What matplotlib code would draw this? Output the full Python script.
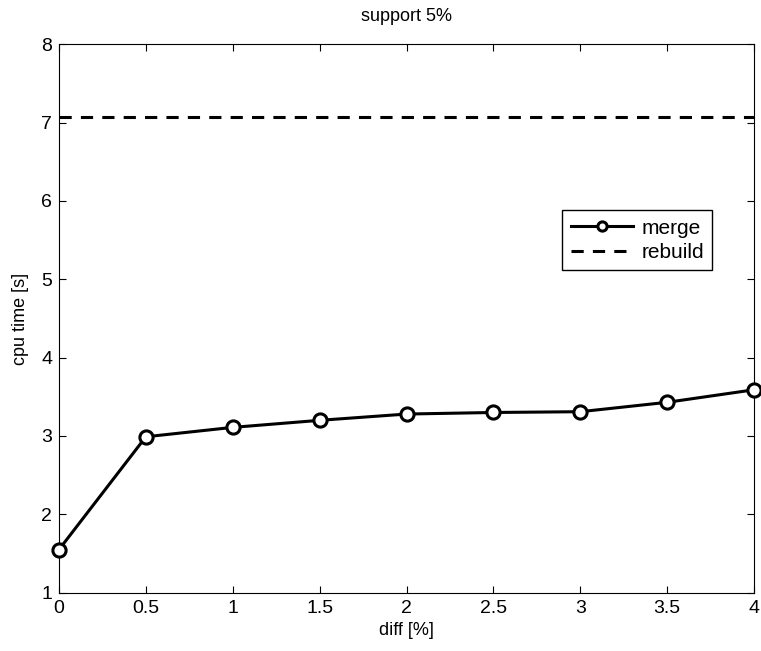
import matplotlib
matplotlib.use("Agg")
import matplotlib.pyplot as plt

plt.rcParams['font.family'] = ['Liberation Sans', 'DejaVu Sans']

diff = [0, 0.5, 1, 1.5, 2, 2.5, 3, 3.5, 4]
merge = [1.55, 2.99, 3.11, 3.20, 3.28, 3.30, 3.31, 3.43, 3.59]
rebuild = 7.07

fig = plt.figure(figsize=(7.61, 6.51), dpi=100)
ax = fig.add_axes([0.0775, 0.0896, 0.9135, 0.8424])

ax.plot(diff, merge, 'k-o', lw=2.2, ms=9.5, mfc='white', mew=2.2, label='merge', clip_on=False, zorder=3)
ax.plot([diff[0], diff[-1]], [rebuild, rebuild], 'k--', lw=2.2, dashes=(4, 3), label='rebuild')

ax.set_xlim(0, 4)
ax.set_ylim(1, 8)
ax.set_xticks(diff)
ax.set_xticklabels(['0', '0.5', '1', '1.5', '2', '2.5', '3', '3.5', '4'])
ax.set_yticks(range(1, 9))
ax.tick_params(direction='in', top=True, right=True, labelsize=14, length=5, pad=5)
ax.set_xlabel('diff [%]', fontsize=13, labelpad=4)
ax.set_ylabel('cpu time [s]', fontsize=13, labelpad=9)
ax.set_title('support 5%', fontsize=13, pad=17)

leg = ax.legend(loc='upper left', bbox_to_anchor=(0.724, 0.697), fontsize=15,
                fancybox=False, framealpha=1, edgecolor='black', handlelength=3.0,
                borderpad=0.4, labelspacing=0.25, handletextpad=0.4, markerscale=0.7,
                borderaxespad=0)
leg.get_frame().set_linewidth(1)

fig.savefig('out.png', dpi=100)
